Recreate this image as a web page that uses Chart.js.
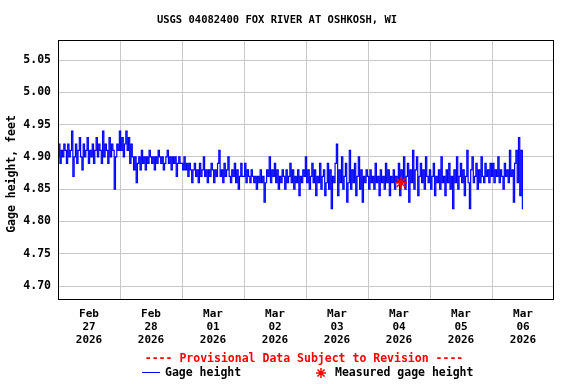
<!DOCTYPE html>
<html>
<head>
<meta charset="utf-8">
<script src="https://cdn.jsdelivr.net/npm/chart.js@4/dist/chart.umd.min.js"></script>
<style>
html,body{margin:0;padding:0;background:#fff;}
canvas{display:block;}
</style>
</head>
<body>
<canvas id="c" width="576" height="384"></canvas>
<script>
// ---- data (30-minute gage height readings, feet) ----
const feb27 = [4.90,4.92,4.89,4.91,4.90,4.92,4.91,4.89,4.92,4.90,4.91,4.94,4.87,4.90,4.92,4.89,4.91,4.93,4.90,4.88,4.92,4.90,4.91,4.93,4.89,4.91,4.90,4.92,4.89,4.91,4.93,4.90,4.92,4.91,4.89,4.94,4.90,4.92,4.91,4.89,4.93,4.90,4.92,4.91,4.85,4.90,4.92,4.91];
const feb28 = [4.94,4.91,4.93,4.90,4.92,4.94,4.91,4.93,4.89,4.92,4.90,4.88,4.90,4.86,4.89,4.90,4.88,4.91,4.89,4.90,4.88,4.90,4.89,4.91,4.90,4.89,4.90,4.88,4.90,4.89,4.91,4.90,4.89,4.90,4.88,4.89,4.90,4.91,4.89,4.90,4.88,4.90,4.89,4.90,4.87,4.89,4.90,4.89];
const mar01 = [4.89,4.88,4.90,4.88,4.89,4.87,4.89,4.88,4.86,4.88,4.89,4.87,4.88,4.86,4.89,4.87,4.88,4.90,4.87,4.88,4.86,4.88,4.87,4.89,4.88,4.86,4.88,4.87,4.89,4.91,4.87,4.88,4.86,4.89,4.87,4.88,4.90,4.87,4.86,4.88,4.87,4.89,4.86,4.88,4.85,4.87,4.89,4.87];
const mar02 = [4.87,4.89,4.86,4.88,4.87,4.86,4.88,4.87,4.86,4.87,4.85,4.87,4.86,4.88,4.86,4.87,4.83,4.86,4.88,4.87,4.90,4.86,4.88,4.87,4.89,4.86,4.88,4.85,4.87,4.86,4.88,4.87,4.85,4.88,4.86,4.87,4.89,4.86,4.88,4.85,4.87,4.86,4.88,4.84,4.87,4.86,4.88,4.87];
const mar03 = [4.90,4.86,4.88,4.85,4.87,4.89,4.86,4.88,4.84,4.87,4.86,4.89,4.85,4.87,4.88,4.84,4.86,4.89,4.85,4.88,4.82,4.87,4.86,4.89,4.92,4.84,4.88,4.86,4.90,4.85,4.87,4.89,4.83,4.86,4.91,4.85,4.88,4.86,4.89,4.84,4.87,4.90,4.85,4.88,4.83,4.87,4.86,4.88];
const mar04 = [4.87,4.85,4.88,4.86,4.87,4.85,4.89,4.86,4.87,4.84,4.88,4.86,4.87,4.85,4.89,4.86,4.88,4.84,4.87,4.86,4.88,4.85,4.87,4.86,4.89,4.84,4.88,4.86,4.90,4.85,4.87,4.89,4.83,4.88,4.86,4.91,4.85,4.88,4.90,4.84,4.87,4.89,4.86,4.88,4.85,4.90,4.87,4.86];
const mar05 = [4.88,4.85,4.87,4.89,4.84,4.87,4.86,4.88,4.85,4.90,4.86,4.87,4.84,4.88,4.86,4.89,4.85,4.87,4.82,4.88,4.86,4.90,4.85,4.87,4.89,4.86,4.88,4.84,4.87,4.91,4.86,4.82,4.88,4.90,4.86,4.87,4.89,4.85,4.88,4.86,4.90,4.87,4.86,4.89,4.87,4.88,4.86,4.89];
const mar06 = [4.87,4.89,4.86,4.88,4.87,4.90,4.86,4.88,4.87,4.85,4.89,4.87,4.88,4.86,4.91,4.87,4.88,4.83,4.89,4.91,4.86,4.93,4.84,4.91,4.82];
const stepHours = 0.5;

// measured gage height (hours since Feb 27 00:00, feet)
const measuredHours = [132.75];
const measuredValues = [4.86];

// axis labels
const dayLabels = [["Feb","27","2026"],["Feb","28","2026"],["Mar","01","2026"],["Mar","02","2026"],["Mar","03","2026"],["Mar","04","2026"],["Mar","05","2026"],["Mar","06","2026"]];
const yTicks = [4.70,4.75,4.80,4.85,4.90,4.95,5.00,5.05];

const gage = [].concat(feb27, feb28, mar01, mar02, mar03, mar04, mar05, mar06);
const gageData = gage.map((v,i)=>({x:i*stepHours, y:v}));
const measData = measuredValues.map((v,i)=>({x:measuredHours[i], y:v}));

const MONO = '"DejaVu Sans Mono", "Liberation Mono", monospace';

const xTickValues = [];
for (let h = 0; h <= 192; h += 12) xTickValues.push(h);

const decor = {
  id:'decor',
  afterDraw(chart){
    const c = chart.ctx, a = chart.chartArea;
    c.save();
    // plot frame
    c.strokeStyle = '#000'; c.lineWidth = 1;
    c.strokeRect(Math.round(a.left)+0.5, Math.round(a.top)+0.5, Math.round(a.right-a.left)-1, Math.round(a.bottom-a.top));
    // title
    c.fillStyle = '#000';
    c.font = 'bold 10.5px ' + MONO;
    c.textAlign = 'center'; c.textBaseline = 'middle';
    c.fillText('USGS 04082400 FOX RIVER AT OSHKOSH, WI', 277, 20);
    // y title
    c.save();
    c.translate(12, 174); c.rotate(-Math.PI/2);
    c.font = 'bold 11.5px ' + MONO;
    c.fillText('Gage height, feet', 0, 0);
    c.restore();
    // provisional
    c.fillStyle = '#ff0000';
    c.font = 'bold 11.5px ' + MONO;
    c.fillText('---- Provisional Data Subject to Revision ----', 304, 359);
    // legend
    c.strokeStyle = '#0000ff'; c.lineWidth = 1;
    c.beginPath(); c.moveTo(142, 372.5); c.lineTo(160, 372.5); c.stroke();
    c.fillStyle = '#000'; c.textAlign = 'left';
    c.fillText('Gage height', 165, 373);
    c.fillText('Measured gage height', 335, 373);
    // star
    c.strokeStyle = '#ff0000'; c.lineWidth = 1.5;
    const sx = 321, sy = 373, r = 5;
    c.beginPath();
    for (let k = 0; k < 4; k++) {
      const ang = k*Math.PI/4;
      c.moveTo(sx - r*Math.cos(ang), sy - r*Math.sin(ang));
      c.lineTo(sx + r*Math.cos(ang), sy + r*Math.sin(ang));
    }
    c.stroke();
    c.restore();
  }
};

new Chart(document.getElementById('c'), {
  type:'line',
  data:{
    datasets:[
      {label:'Gage height', data:gageData, borderColor:'#0000ff', borderWidth:1.2, pointRadius:0, stepped:'middle', fill:false, order:2},
      {label:'Measured gage height', type:'scatter', data:measData, pointStyle:'star', pointRadius:6, borderColor:'#ff0000', backgroundColor:'#ff0000', borderWidth:1.5, order:1}
    ]
  },
  options:{
    responsive:false, animation:false,
    layout:{padding:{top:40, right:22, left:0, bottom:0}},
    plugins:{legend:{display:false}, title:{display:false}, tooltip:{enabled:false}},
    scales:{
      x:{
        type:'linear', min:0, max:192,
        afterBuildTicks(ax){ ax.ticks = xTickValues.map(v=>({value:v})); },
        afterFit(ax){ ax.height = 85; },
        grid:{color:(ctx)=> (ctx.tick && ctx.tick.value % 24 === 0 && ctx.tick.value>0 && ctx.tick.value<192) ? '#c8c8c8' : 'rgba(0,0,0,0)', drawTicks:false, lineWidth:1},
        border:{display:false},
        ticks:{
          autoSkip:false, maxRotation:0, padding:9, color:'#000',
          font:{family:MONO, size:11, weight:'bold', lineHeight:1.18},
          callback:(v)=>{ if (v % 24 === 12) return dayLabels[(v-12)/24]; return ''; }
        }
      },
      y:{
        type:'linear', min:4.68, max:5.081,
        afterBuildTicks(ax){ ax.ticks = yTicks.map(v=>({value:v})); },
        afterFit(ax){ ax.width = 58; },
        grid:{color:'#c8c8c8', drawTicks:false, lineWidth:1},
        border:{display:false},
        ticks:{padding:7, color:'#000', font:{family:MONO, size:11.5, weight:'bold'}, callback:(v)=>Number(v).toFixed(2)}
      }
    }
  },
  plugins:[decor]
});
</script>
</body>
</html>
